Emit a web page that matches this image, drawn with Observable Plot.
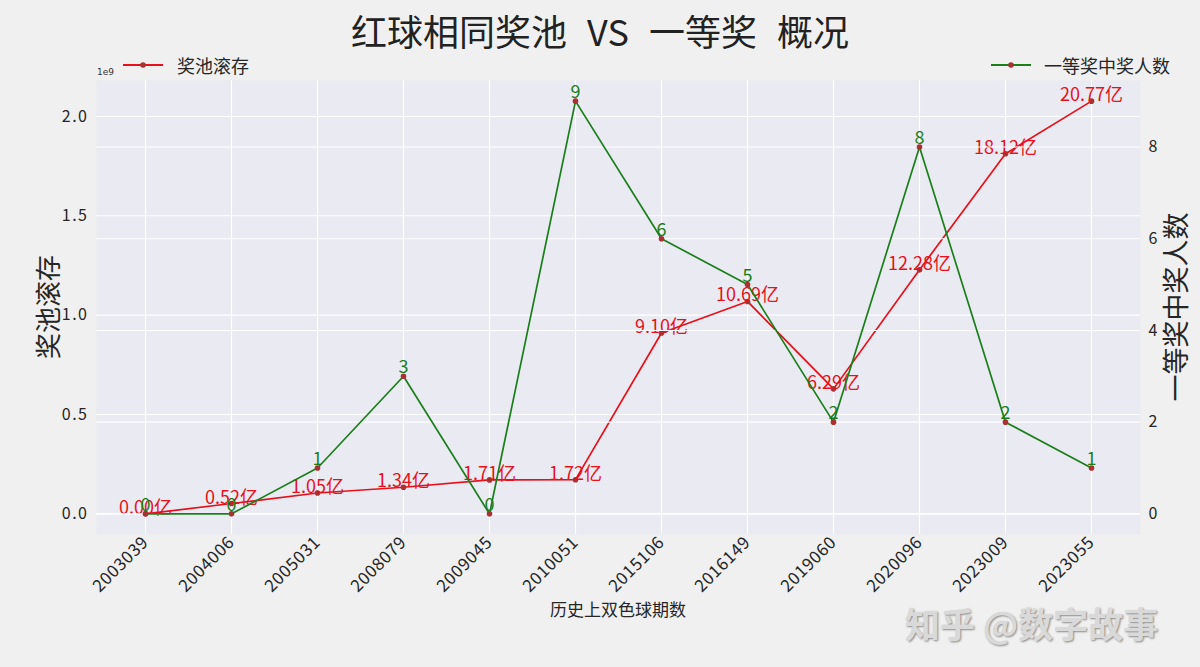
<!DOCTYPE html>
<html>
<head>
<meta charset="utf-8">
<script src="https://cdn.jsdelivr.net/npm/d3@7"></script>
<script src="https://cdn.jsdelivr.net/npm/@observablehq/plot@0.6"></script>
<style>
  html, body { margin: 0; padding: 0; background: #f0f0f0; }
  #wrap { position: relative; width: 1200px; height: 667px; background: #f0f0f0; overflow: hidden;
          font-family: "Noto Sans CJK SC", "Noto Sans", sans-serif; color: #262626; }
  .abs { position: absolute; white-space: nowrap; }
  #chart1, #chart2 { position: absolute; left: 0; top: 0; }
</style>
</head>
<body>
<div id="wrap">
  <div id="chart1"></div>
  <div id="chart2"></div>
  <div class="abs" id="title" style="left:0;width:1200px;top:7px;text-align:center;font-size:36px;line-height:46px;color:#222;word-spacing:12px;">红球相同奖池 VS 一等奖 概况</div>
  <div class="abs" id="leg1" style="left:123px;top:53px;height:24px;display:flex;align-items:center;font-size:18px;">
    <svg width="40" height="24"><line x1="0" y1="12" x2="40" y2="12" stroke="#e8101a" stroke-width="1.8"/><circle cx="20" cy="12" r="2.8" fill="#a83232"/></svg>
    <span style="margin-left:14px">奖池滚存</span>
  </div>
  <div class="abs" id="leg2" style="left:991px;top:53px;height:24px;display:flex;align-items:center;font-size:18px;">
    <svg width="40" height="24"><line x1="0" y1="12" x2="40" y2="12" stroke="#1a7f1a" stroke-width="1.8"/><circle cx="20" cy="12" r="2.8" fill="#a83232"/></svg>
    <span style="margin-left:13px">一等奖中奖人数</span>
  </div>
  <div class="abs" style="left:97px;top:67px;font-size:9px;font-family:'DejaVu Sans',sans-serif;color:#333;">1e9</div>
  <div class="abs" id="ylab1" style="left:46px;top:307px;font-size:26px;transform:translate(-50%,-50%) rotate(-90deg);">奖池滚存</div>
  <div class="abs" id="ylab2" style="left:1174px;top:307px;font-size:27px;transform:translate(-50%,-50%) rotate(-90deg);">一等奖中奖人数</div>
  <div class="abs" id="xlab" style="left:618px;top:608px;font-size:17px;transform:translate(-50%,-50%);">历史上双色球期数</div>
  <div class="abs" id="wm" style="left:905px;top:597px;font-size:35px;font-weight:bold;color:#d9d9d9;text-shadow:1px 1px 2px #8a8a8a;">知乎 @数字故事</div>
</div>
<script>
// ---- data ----
const periods = ["2003039","2004006","2005031","2008079","2009045","2010051","2015106","2016149","2019060","2020096","2023009","2023055"];
const jackpot = [0.00e8, 0.52e8, 1.05e8, 1.34e8, 1.71e8, 1.72e8, 9.10e8, 10.69e8, 6.29e8, 12.28e8, 18.12e8, 20.77e8];
const winners = [0, 0, 1, 3, 0, 9, 6, 5, 2, 8, 2, 1];
const leftTicks = [0, 0.5e9, 1.0e9, 1.5e9, 2.0e9];
const rightTicks = [0, 2, 4, 6, 8];

const rows = periods.map((p, i) => ({period: p, jackpot: jackpot[i], winners: winners[i]}));

const W = 1200, H = 667, mL = 96, mR = 60, mT = 80, mB = 133;
const RED = "#e8101a", GREEN = "#1a7f1a", DOT = "#a83232";
const FONT = "'Noto Sans CJK SC', 'Noto Sans', sans-serif";

const jMax = d3.max(jackpot), jPad = jMax * 0.05;
const wMax = d3.max(winners), wPad = wMax * 0.05;

const common = {
  width: W, height: H, marginLeft: mL, marginRight: mR, marginTop: mT, marginBottom: mB,
  style: {background: "transparent", fontFamily: FONT, color: "#262626", overflow: "visible"}
};

const p1 = Plot.plot({
  ...common,
  x: {type: "point", domain: periods, padding: 0.55},
  y: {domain: [-jPad, jMax + jPad]},
  marks: [
    Plot.frame({fill: "#eaeaf2", stroke: null}),
    Plot.gridX({stroke: "#ffffff", strokeOpacity: 1, strokeWidth: 1.1}),
    Plot.gridY(leftTicks, {stroke: "#ffffff", strokeOpacity: 1, strokeWidth: 1.1}),
    Plot.axisY(leftTicks, {tickSize: 0, tickPadding: 8, fontSize: 16, label: null,
      tickFormat: d => (d / 1e9).toFixed(1)}),
    Plot.axisX({tickSize: 0, tickPadding: 5, tickRotate: -45, fontSize: 17, label: null}),
    Plot.line(rows, {x: "period", y: "jackpot", stroke: RED, strokeWidth: 1.7}),
    Plot.dot(rows, {x: "period", y: "jackpot", r: 2.8, fill: DOT}),
    Plot.text(rows, {x: "period", y: "jackpot", text: d => (d.jackpot / 1e8).toFixed(2) + "亿",
      lineAnchor: "bottom", dy: 0, fill: RED, fontSize: 18})
  ]
});
d3.select(p1).selectAll('g[aria-label="x-axis tick label"] text').style("letter-spacing", "0.6px");
d3.select(p1).selectAll('g[aria-label="y-axis tick label"] text').style("letter-spacing", "1.5px");
document.getElementById("chart1").appendChild(p1);

const p2 = Plot.plot({
  ...common,
  x: {type: "point", domain: periods, padding: 0.55, axis: null},
  y: {domain: [-wPad, wMax + wPad]},
  marks: [
    Plot.gridY(rightTicks, {stroke: "#ffffff", strokeOpacity: 1, strokeWidth: 1.1}),
    Plot.axisY(rightTicks, {anchor: "right", tickSize: 0, tickPadding: 8, fontSize: 16, label: null}),
    Plot.line(rows, {x: "period", y: "winners", stroke: GREEN, strokeWidth: 1.7}),
    Plot.dot(rows, {x: "period", y: "winners", r: 2.8, fill: DOT}),
    Plot.text(rows, {x: "period", y: "winners", text: d => String(d.winners),
      lineAnchor: "bottom", dy: -3, fill: GREEN, fontSize: 18})
  ]
});
document.getElementById("chart2").appendChild(p2);
</script>
</body>
</html>
